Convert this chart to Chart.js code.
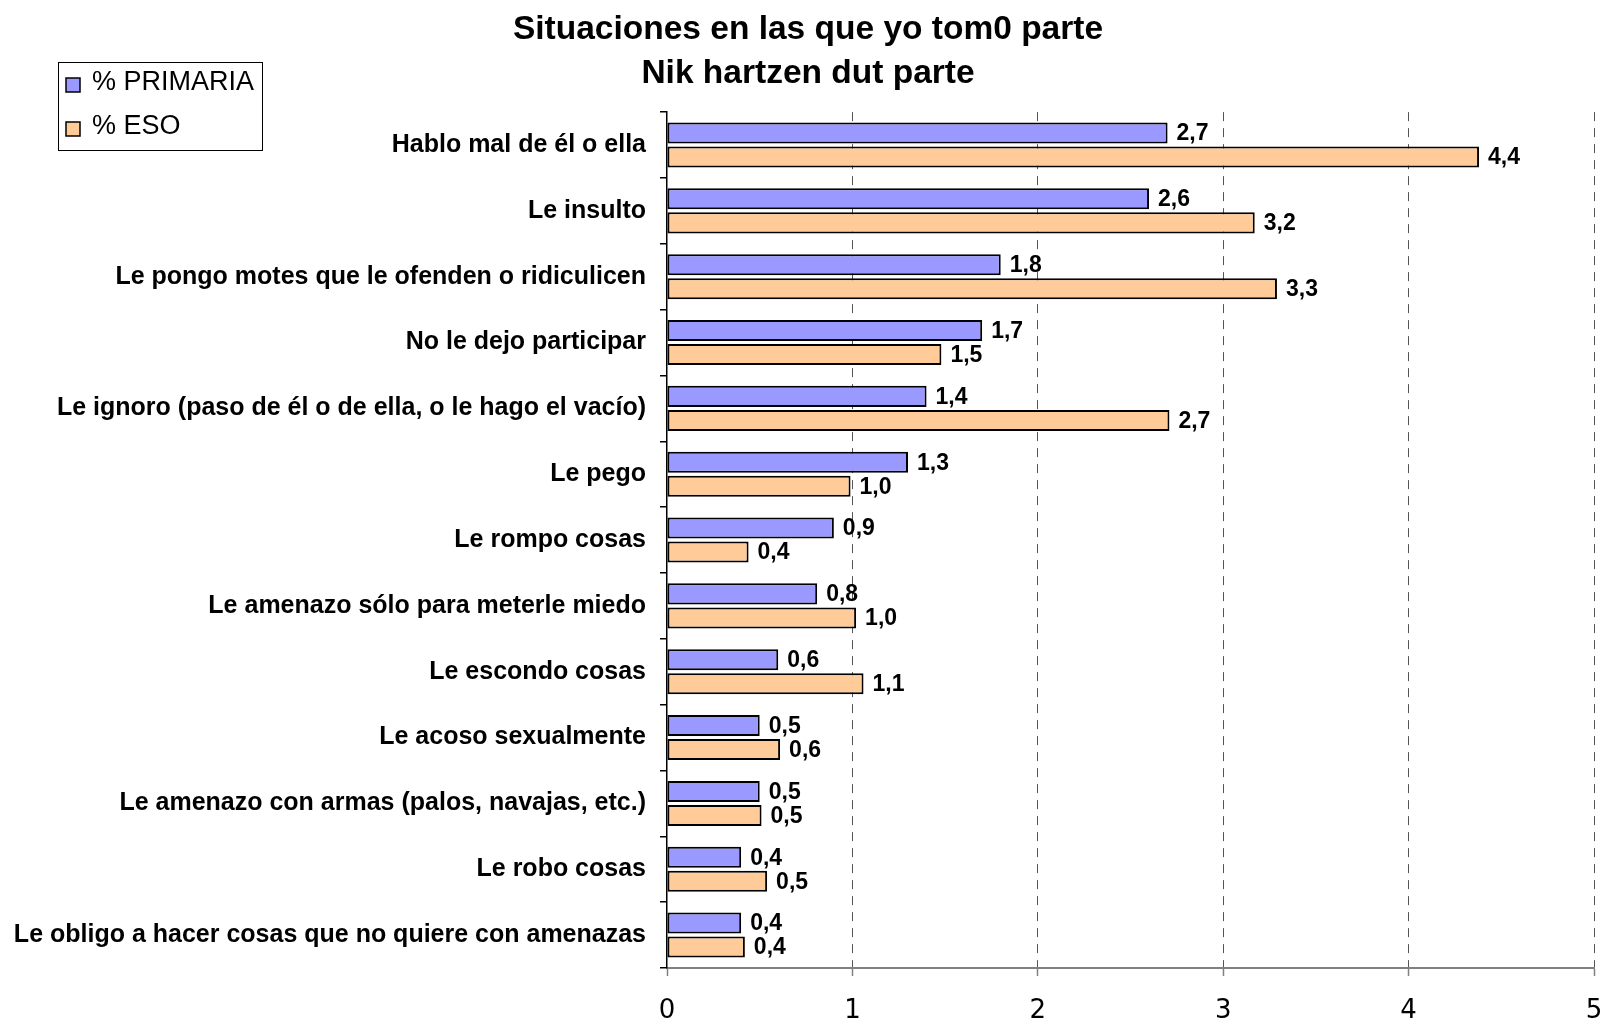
<!DOCTYPE html>
<html>
<head>
<meta charset="utf-8">
<script src="https://cdn.jsdelivr.net/npm/chart.js@4.4.1/dist/chart.umd.min.js"></script>
<style>
html,body{margin:0;padding:0;background:#ffffff;}
#wrap{width:1604px;height:1018px;position:relative;}
</style>
</head>
<body>
<div id="wrap"><canvas id="c" width="1604" height="1018"></canvas></div>
<script>
const titleLines = ['Situaciones en las que yo tom0 parte', 'Nik hartzen dut parte'];
const categories = [
  'Hablo mal de él o ella',
  'Le insulto',
  'Le pongo motes que le ofenden o ridiculicen',
  'No le dejo participar',
  'Le ignoro (paso de él o de ella, o le hago el vacío)',
  'Le pego',
  'Le rompo cosas',
  'Le amenazo sólo para meterle miedo',
  'Le escondo cosas',
  'Le acoso sexualmente',
  'Le amenazo con armas (palos, navajas, etc.)',
  'Le robo cosas',
  'Le obligo a hacer cosas que no quiere con amenazas'
];
const seriesNames = ['% PRIMARIA', '% ESO'];
const primaria = [2.70, 2.60, 1.80, 1.70, 1.40, 1.30, 0.90, 0.81, 0.60, 0.50, 0.50, 0.40, 0.40];
const eso      = [4.38, 3.17, 3.29, 1.48, 2.71, 0.99, 0.44, 1.02, 1.06, 0.61, 0.51, 0.54, 0.42];
const xTicks = [0, 1, 2, 3, 4, 5];

const FONT = '"Liberation Sans", Arial, Helvetica, sans-serif';

const valueLabels = {
  id: 'valueLabels',
  afterDatasetsDraw(chart) {
    const ctx = chart.ctx;
    ctx.save();
    ctx.font = 'bold 23px ' + FONT;
    ctx.fillStyle = '#000';
    ctx.textAlign = 'left';
    ctx.textBaseline = 'middle';
    chart.data.datasets.forEach((ds, di) => {
      const meta = chart.getDatasetMeta(di);
      meta.data.forEach((bar, i) => {
        const txt = ds.data[i].toFixed(1).replace('.', ',');
        ctx.fillText(txt, bar.x + 9, bar.y + 1);
      });
    });
    ctx.restore();
  }
};

const boxLegend = {
  id: 'boxLegend',
  afterDraw(chart) {
    const ctx = chart.ctx;
    ctx.save();
    ctx.fillStyle = '#fff';
    ctx.fillRect(58, 62, 204, 88);
    ctx.strokeStyle = '#000';
    ctx.lineWidth = 1;
    ctx.strokeRect(58.5, 62.5, 204, 88);
    ctx.font = '27px ' + FONT;
    ctx.textAlign = 'left';
    ctx.textBaseline = 'middle';
    chart.data.datasets.forEach((ds, i) => {
      const y = 78 + i * 44;
      ctx.fillStyle = ds.backgroundColor;
      ctx.fillRect(66, y, 14, 14);
      ctx.strokeStyle = '#000';
      ctx.lineWidth = 1.5;
      ctx.strokeRect(66, y, 14, 14);
      ctx.fillStyle = '#000';
      ctx.fillText(ds.label, 92, y + 5);
    });
    ctx.restore();
  }
};

new Chart(document.getElementById('c'), {
  type: 'bar',
  data: {
    labels: categories,
    datasets: [
      { label: seriesNames[0], data: primaria, backgroundColor: '#9999FF', borderColor: '#000', borderWidth: 2, borderSkipped: false },
      { label: seriesNames[1], data: eso, backgroundColor: '#FFCC99', borderColor: '#000', borderWidth: 2, borderSkipped: false }
    ]
  },
  options: {
    indexAxis: 'y',
    responsive: false,
    devicePixelRatio: 1,
    animation: false,
    categoryPercentage: 0.73,
    barPercentage: 0.875,
    layout: { padding: { left: 12, right: 0, top: 0, bottom: 0 } },
    plugins: {
      legend: { display: false },
      tooltip: { enabled: false },
      title: {
        display: true,
        text: titleLines,
        color: '#000',
        font: { family: FONT, size: 33.5, weight: 'bold', lineHeight: 1.33 },
        padding: { top: 7, bottom: 16 }
      }
    },
    scales: {
      x: {
        type: 'linear',
        min: 0,
        max: 5,
        afterBuildTicks: s => { s.ticks = xTicks.map(v => ({ value: v })); },
        afterFit: s => { s.height = 50; s.paddingLeft = 0; s.paddingRight = 10; },
        ticks: {
          color: '#000',
          font: { family: '"DejaVu Sans", Verdana, sans-serif', size: 26 },
          padding: 20,
          callback: v => String(v)
        },
        grid: {
          color: c => (c.index === 0 ? 'rgba(0,0,0,0)' : '#555555'),
          tickColor: '#808080',
          lineWidth: 1,
          tickWidth: 1.5,
          tickLength: 8
        },
        border: { display: true, color: '#808080', width: 2, dash: [9, 7] }
      },
      y: {
        type: 'category',
        afterFit: s => { s.width = 655; s.paddingTop = 0; s.paddingBottom = 0; },
        ticks: {
          color: '#000',
          font: { family: FONT, size: 25, weight: 'bold' },
          padding: 14,
          autoSkip: false
        },
        grid: {
          display: true,
          offset: true,
          drawOnChartArea: false,
          drawTicks: true,
          tickLength: 7,
          color: '#000',
          lineWidth: 1.5
        },
        border: { display: true, color: '#000', width: 1.5 }
      }
    }
  },
  plugins: [valueLabels, boxLegend]
});
</script>
</body>
</html>
